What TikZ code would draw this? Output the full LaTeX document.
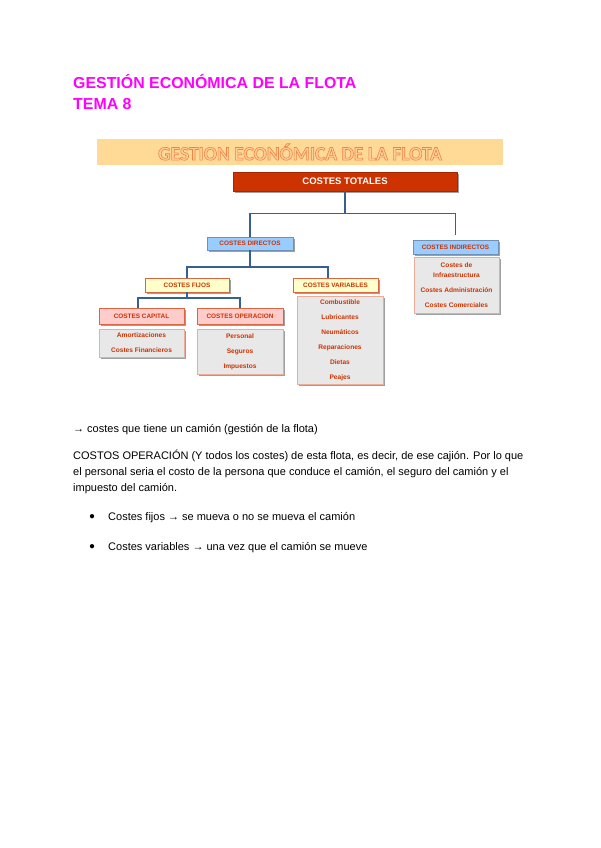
\documentclass[tikz,border=0pt]{standalone}
\usepackage{fontspec}
\setmainfont{Liberation Sans}
\newfontfamily\bannerfont{Carlito}
\usetikzlibrary{positioning,shadows}
\definecolor{titlemag}{RGB}{255,0,255}
\definecolor{costred}{RGB}{204,51,0}
\definecolor{linkblue}{RGB}{54,96,146}
\definecolor{bannerfill}{RGB}{255,217,150}
\definecolor{bannertext}{RGB}{255,205,150}
\definecolor{bluefill}{RGB}{153,204,255}
\definecolor{yellowfill}{RGB}{255,255,204}
\definecolor{pinkfill}{RGB}{255,204,204}
\definecolor{listfill}{RGB}{232,232,232}
\newcommand{\outlined}[1]{\special{pdf:code 2 Tr 0.6 w 0.93 0.52 0.27 RG}#1\special{pdf:code 0 Tr}}

\begin{document}
\begin{tikzpicture}[x=1pt,y=-1pt,
  shade/.style={drop shadow={shadow xshift=1.5pt,shadow yshift=-1.5pt,fill=gray!75,opacity=1}},
  head/.style={shade,draw=costred!75,fill=#1,text=costred,font=\fontsize{6.4}{7}\selectfont\bfseries,minimum width=85pt,minimum height=14pt,inner sep=0pt},
  listbox/.style={shade,draw=costred!40,fill=listfill,text=costred,font=\fontsize{6.6}{10}\selectfont\bfseries,align=center,minimum width=86pt,inner sep=0pt},
  link/.style={draw=linkblue,line width=1.5pt},
  body/.style={font=\fontsize{11}{16}\selectfont,inner sep=0pt,align=left}]
\useasboundingbox[fill=white] (0,0) rectangle (600,848);

% heading
\node[anchor=base west,text=titlemag,font=\fontsize{15.9}{21}\selectfont\bfseries,inner sep=0pt] (title) at (73,89) {GESTIÓN ECONÓMICA DE LA FLOTA};
\node[anchor=base west,text=titlemag,font=\fontsize{15.9}{21}\selectfont\bfseries,inner sep=0pt] (tema) at (73,110) {TEMA 8};

% organigram
\node[fill=bannerfill,minimum width=406pt,minimum height=26pt,inner sep=0pt,text=bannertext,font=\bannerfont\fontsize{19.5}{20}\selectfont\bfseries] (banner) at (300,152) {\outlined{GESTION ECONÓMICA DE LA FLOTA}};
\node[shade,fill=costred,draw=costred!80!black,text=white,font=\fontsize{9.5}{10}\selectfont\bfseries,minimum width=224pt,minimum height=19pt,inner sep=0pt] (total) at (345,181.5) {COSTES TOTALES};
\node[head=bluefill,draw=linkblue!70,minimum height=13pt,minimum width=86pt] (directos) at (250,243.5) {COSTES DIRECTOS};
\node[head=bluefill,draw=linkblue!70] (indirectos) at (455.5,247) {COSTES INDIRECTOS};
\node[listbox,minimum width=85pt,minimum height=56pt] (indlist) at (456.5,285) {Costes de\\Infraestructura\\[5pt]Costes Administración\\[5pt]Costes Comerciales};
\node[head=yellowfill,minimum width=84pt] (fijos) at (187,285) {COSTES FIJOS};
\node[head=yellowfill] (variables) at (335.5,285) {COSTES VARIABLES};
\node[listbox,minimum height=88pt] (varlist) at (340,340) {Combustible\\[5pt]Lubricantes\\[5pt]Neumáticos\\[5pt]Reparaciones\\[5pt]Dietas\\[5pt]Peajes};
\node[head=pinkfill,minimum height=16pt] (capital) at (141.5,316) {COSTES CAPITAL};
\node[head=pinkfill,minimum height=16pt,minimum width=86pt] (operacion) at (240,316) {COSTES OPERACION};
\node[listbox,minimum width=85pt,minimum height=28pt] (caplist) at (141.5,343) {Amortizaciones\\[5pt]Costes Financieros};
\node[listbox,minimum height=45pt] (oplist) at (240,351.5) {Personal\\[5pt]Seguros\\[5pt]Impuestos};

\draw[link] (total.south) -- ++(0,22.5) coordinate (j1);
\draw[link] (directos.north) |- (j1) -| ([yshift=5pt]indirectos.north);
\draw[link] (directos.south) -- ++(0,17) coordinate (j2);
\draw[link] (fijos.north) |- (j2) -| ([xshift=-7.5pt]variables.north);
\draw[link] (fijos.south) -- ++(0,6) coordinate (j3);
\draw[link] ([xshift=-3.5pt]capital.north) |- (j3) -| (operacion.north);

% notes
\node[body,anchor=base west] (note) at (73,432) {→ costes que tiene un camión (gestión de la flota)};
\node[body,anchor=base west] (para) at (73,491) {COSTOS OPERACIÓN (Y todos los costes) de esta flota, es decir, de ese cajión. Por lo que\\el personal seria el costo de la persona que conduce el camión, el seguro del camión y el\\impuesto del camión.};
\node[body,anchor=base west] (fijo) at (89,520) {\makebox[19pt][l]{\raisebox{1pt}{\fontsize{10}{10}\selectfont ●}}Costes fijos → se mueva o no se mueva el camión};
\node[body,anchor=base west] (vari) at (89,550) {\makebox[19pt][l]{\raisebox{1pt}{\fontsize{10}{10}\selectfont ●}}Costes variables → una vez que el camión se mueve};
\end{tikzpicture}
\end{document}
